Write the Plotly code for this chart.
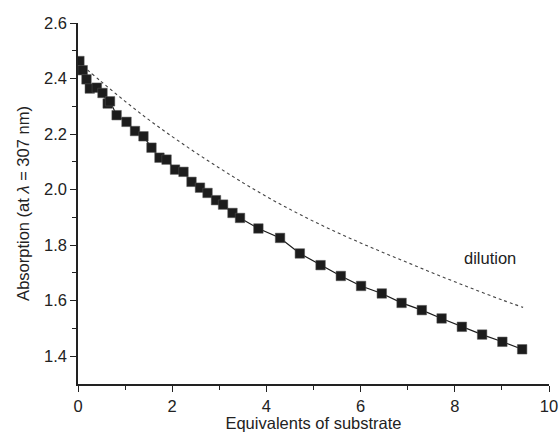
import plotly.graph_objects as go

# Measured series: equivalents of substrate vs absorption
equiv = [0.03, 0.10, 0.18, 0.25, 0.40, 0.52, 0.63, 0.68, 0.82, 1.03,
         1.21, 1.39, 1.56, 1.73, 1.88, 2.06, 2.24, 2.41, 2.59, 2.75,
         2.93, 3.08, 3.28, 3.44, 3.83, 4.29, 4.71, 5.15, 5.58, 6.01,
         6.45, 6.87, 7.30, 7.72, 8.15, 8.58, 9.01, 9.43]
absorb = [2.463, 2.430, 2.397, 2.364, 2.367, 2.348, 2.310, 2.318, 2.268, 2.244,
          2.211, 2.192, 2.151, 2.115, 2.108, 2.072, 2.064, 2.028, 2.007, 1.988,
          1.962, 1.946, 1.916, 1.898, 1.860, 1.826, 1.770, 1.728, 1.689, 1.653,
          1.626, 1.592, 1.566, 1.536, 1.506, 1.478, 1.452, 1.425]

# Dilution reference curve
dil_x = [0.0, 0.5, 1.0, 1.5, 2.0, 2.5, 3.0, 3.5, 4.0, 4.5,
         5.0, 5.5, 6.0, 6.5, 7.0, 7.5, 8.0, 8.5, 9.0, 9.45]
dil_y = [2.460, 2.388, 2.318, 2.252, 2.191, 2.133, 2.078, 2.025, 1.975, 1.929,
         1.886, 1.846, 1.808, 1.772, 1.737, 1.702, 1.668, 1.635, 1.603, 1.576]

x_ticks = [0, 2, 4, 6, 8, 10]
y_ticks = [1.4, 1.6, 1.8, 2.0, 2.2, 2.4, 2.6]

FONT = "Liberation Sans, Arial, sans-serif"
INK = "#222222"
FS = 16.5

fig = go.Figure()
fig.add_trace(go.Scatter(
    x=dil_x, y=dil_y, mode="lines",
    line=dict(color="#444444", width=1.1, dash="dot", shape="spline"),
    hoverinfo="skip", showlegend=False))
fig.add_trace(go.Scatter(
    x=equiv, y=absorb, mode="lines+markers",
    line=dict(color="#1a1a1a", width=1.2),
    marker=dict(symbol="square", size=9.5, color="#1c1c1c",
                line=dict(color="#555555", width=0.5)),
    showlegend=False))

fig.add_annotation(x=8.74, y=1.753, text="dilution", showarrow=False,
                   font=dict(family=FONT, size=FS, color=INK))

fig.update_layout(
    width=559, height=432,
    margin=dict(l=78, r=10, t=23, b=48),
    paper_bgcolor="white", plot_bgcolor="white",
    font=dict(family=FONT, size=FS, color=INK),
)
fig.update_xaxes(
    range=[0, 10], tickvals=x_ticks, ticktext=[str(v) for v in x_ticks],
    automargin=False, ticklabeloverflow="allow",
    showgrid=False, zeroline=False, showline=True, linecolor=INK, linewidth=1.5,
    ticks="outside", ticklen=6, tickwidth=1.2, tickcolor=INK,
    minor=dict(tickvals=[1, 3, 5, 7, 9], ticks="outside", ticklen=4,
               tickwidth=1.2, tickcolor=INK, showgrid=False),
    title=dict(text="Equivalents of substrate", standoff=2,
               font=dict(family=FONT, size=FS, color=INK)),
    tickfont=dict(family=FONT, size=FS, color=INK),
)
fig.update_yaxes(
    range=[1.3, 2.6], tickvals=y_ticks, ticktext=[f"{v:.1f}" for v in y_ticks],
    automargin=False,
    showgrid=False, zeroline=False, showline=True, linecolor=INK, linewidth=1.5,
    ticks="outside", ticklen=6, tickwidth=1.2, tickcolor=INK,
    minor=dict(tickvals=[1.5, 1.7, 1.9, 2.1, 2.3, 2.5], ticks="outside",
               ticklen=4, tickwidth=1.2, tickcolor=INK, showgrid=False),
    title=dict(text="Absorption (at <i>λ</i> = 307 nm)", standoff=10,
               font=dict(family=FONT, size=FS, color=INK)),
    tickfont=dict(family=FONT, size=FS, color=INK),
)

# remove the default 8px page margin so the figure fills the window exactly
fig.write_html(
    "out.html",
    config={"displayModeBar": False},
    post_script="document.body.style.margin='0';document.body.style.overflow='hidden';",
)
